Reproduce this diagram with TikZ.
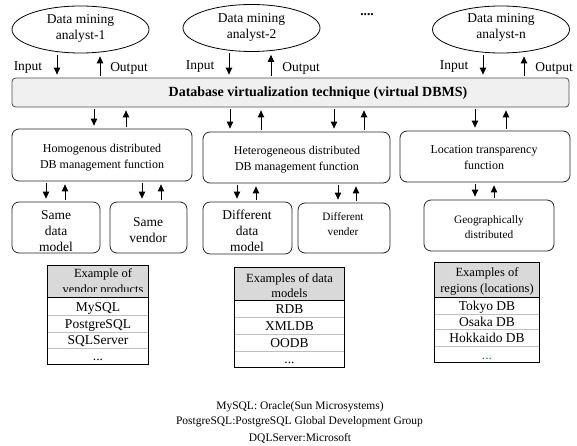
\documentclass[tikz,border=0pt]{standalone}
\usepackage{fontspec}
\setmainfont{Liberation Serif}
\usetikzlibrary{arrows.meta,shapes.geometric}
\definecolor{dotgreen}{RGB}{0,150,0}
\begin{document}
\begin{tikzpicture}[x=1pt,y=-1pt,
  arr/.style={line width=0.9pt,-{Triangle[length=7pt,width=6.5pt]},shorten <=1.5pt,shorten >=3pt},
  ell/.style={ellipse,draw=black,line width=0.8pt,minimum width=137pt,minimum height=47pt,inner sep=0pt},
  t/.style={inner sep=0pt,align=center,font=\fontsize{13.5}{16}\selectfont},
  ts/.style={inner sep=0pt,align=center,font=\fontsize{12}{16}\selectfont},
  tss/.style={inner sep=0pt,align=center,font=\fontsize{11.3}{15}\selectfont},
  rbox/.style={draw=black!85,line width=0.8pt,rounded corners=7pt,inner sep=0pt},
  dbbox/.style={draw=black!70,fill=gray!12,line width=0.8pt,rounded corners=3.5pt,inner sep=0pt},
  hdr/.style={fill=gray!30,draw=none,inner sep=0pt},
  cell/.style={draw=none,inner sep=0pt},
  ct/.style={inner sep=0pt,anchor=base,font=\fontsize{13.5}{16}\selectfont},
  ht/.style={inner sep=0pt,align=center,font=\fontsize{12.5}{15.5}\selectfont},
  sep/.style={draw=gray!50,line width=0.8pt},
  frame/.style={draw=black,line width=1.1pt},
  foot/.style={inner sep=0pt,font=\fontsize{11.5}{14}\selectfont}
]
\useasboundingbox (0,0) rectangle (577,446);

% analysts
\node[ell] (e1) at (80.5,29.5) {};
\node[t] (e1t) at (80.5,28.5) {Data mining\\analyst-1};
\node[ell] (e2) at (251.5,28) {};
\node[t] (e2t) at (251.5,27.5) {Data mining\\analyst-2};
\node[ell] (en) at (501,29.5) {};
\node[t] (ent) at (501,27.5) {Data mining\\analyst-n};
\node[t,font=\bfseries\fontsize{13.5}{16}\selectfont] (dots) at (367,15) {....};

% DBMS
\node[dbbox,minimum width=557pt,minimum height=29pt] (dbms) at (290.5,92.5) {};
\node[inner sep=0pt,font=\bfseries\fontsize{14}{16}\selectfont] (dbmst) at (318,93) {Database virtualization technique (virtual DBMS)};

% input / output labels
\node[t] (in1) at (28,68) {Input};
\node[t] (out1) at (129,68.5) {Output};
\node[t] (in2) at (200,67) {Input};
\node[t] (out2) at (301,68.5) {Output};
\node[t] (inn) at (454,67) {Input};
\node[t] (outn) at (554,68.5) {Output};

\draw[arr] (e1.south -| 57,0) -- (dbms.north -| 57,0);
\draw[arr] (dbms.north -| 100,0) -- (e1.south -| 100,0);
\draw[arr] (e2.south -| 229,0) -- (dbms.north -| 229,0);
\draw[arr] (dbms.north -| 271,0) -- (e2.south -| 271,0);
\draw[arr] (en.south -| 483,0) -- (dbms.north -| 483,0);
\draw[arr] (dbms.north -| 524,0) -- (en.south -| 524,0);

% function boxes
\node[rbox,minimum width=180pt,minimum height=52pt] (homo) at (102,155) {};
\node[ts] (homot) at (102,158) {Homogenous distributed\\DB management function};
\node[rbox,minimum width=187pt,minimum height=51pt] (het) at (296.5,157.5) {};
\node[ts] (hett) at (297,160) {Heterogeneous distributed\\DB management function};
\node[rbox,minimum width=170pt,minimum height=51pt] (loc) at (485,156.5) {};
\node[ts] (loct) at (484,157.5) {Location transparency\\function};

\draw[arr] (dbms.south -| 94,0) -- (homo.north -| 94,0);
\draw[arr] (homo.north -| 126,0) -- (dbms.south -| 126,0);
\draw[arr] (dbms.south -| 230,0) -- (het.north -| 230,0);
\draw[arr] (het.north -| 261,0) -- (dbms.south -| 261,0);
\draw[arr] (dbms.south -| 334,0) -- (het.north -| 334,0);
\draw[arr] (het.north -| 364,0) -- (dbms.south -| 364,0);
\draw[arr] (dbms.south -| 475,0) -- (loc.north -| 475,0);
\draw[arr] (loc.north -| 506,0) -- (dbms.south -| 506,0);

% detail boxes
\node[rbox,minimum width=88pt,minimum height=51pt] (sdm) at (56,227.5) {};
\node[t] (sdmt) at (56,231) {Same\\data\\model};
\node[rbox,minimum width=77pt,minimum height=51pt] (sv) at (148.5,227.5) {};
\node[t] (svt) at (148,230) {Same\\vendor};
\node[rbox,minimum width=89pt,minimum height=52pt] (ddm) at (247.5,228) {};
\node[t] (ddmt) at (247,231) {Different\\data\\model};
\node[rbox,minimum width=92pt,minimum height=50pt] (dv) at (344,228) {};
\node[tss] (dvt) at (343,224.5) {Different\\vender};
\node[rbox,minimum width=130pt,minimum height=51pt] (geo) at (489,225.5) {};
\node[tss] (geot) at (489,227.5) {Geographically\\distributed};

\draw[arr] (homo.south -| 46,0) -- (sdm.north -| 46,0);
\draw[arr] (sdm.north -| 65,0) -- (homo.south -| 65,0);
\draw[arr] (homo.south -| 142,0) -- (sv.north -| 142,0);
\draw[arr] (sv.north -| 161,0) -- (homo.south -| 161,0);
\draw[arr] (het.south -| 237,0) -- (ddm.north -| 237,0);
\draw[arr] (ddm.north -| 256,0) -- (het.south -| 256,0);
\draw[arr] (het.south -| 338,0) -- (dv.north -| 338,0);
\draw[arr] (dv.north -| 356,0) -- (het.south -| 356,0);
\draw[arr] (loc.south -| 475,0) -- (geo.north -| 475,0);
\draw[arr] (geo.north -| 494,0) -- (loc.south -| 494,0);

% table 1
\node[hdr,minimum width=100pt,minimum height=31pt] (t1h) at (98,281.5) {};
\begin{scope}
\clip (48,266) rectangle (148,291.3);
\node[ht] (t1ht) at (103,282.5) {Example of\\vendor products};
\end{scope}
\node[cell,minimum width=100pt,minimum height=18pt] (t1a) at (98,306) {};
\node[cell,minimum width=100pt,minimum height=17pt] (t1b) at (98,323.5) {};
\node[cell,minimum width=100pt,minimum height=16pt] (t1c) at (98,340) {};
\node[cell,minimum width=100pt,minimum height=16pt] (t1d) at (98,356) {};
\node[ct] (t1at) at (98,311.5) {MySQL};
\node[ct] (t1bt) at (98,328.5) {PostgreSQL};
\node[ct] (t1ct) at (98,344.5) {SQLServer};
\node[ct] (t1dt) at (98,360) {...};
\draw[sep] (t1a.south west) -- (t1a.south east);
\draw[sep] (t1b.south west) -- (t1b.south east);
\draw[sep] (t1c.south west) -- (t1c.south east);
\draw[frame] (t1h.south west) -- (t1h.south east);
\draw[frame] (t1h.north west) rectangle (t1d.south east);

% table 2
\node[hdr,minimum width=109pt,minimum height=32pt] (t2h) at (289.5,284) {};
\node[ht] (t2ht) at (289.5,285.5) {Examples of data\\models};
\node[cell,minimum width=109pt,minimum height=17pt] (t2a) at (289.5,308.5) {};
\node[cell,minimum width=109pt,minimum height=17pt] (t2b) at (289.5,325.5) {};
\node[cell,minimum width=109pt,minimum height=17pt] (t2c) at (289.5,342.5) {};
\node[cell,minimum width=109pt,minimum height=16pt] (t2d) at (289.5,359) {};
\node[ct] (t2at) at (289.5,313.5) {RDB};
\node[ct] (t2bt) at (289.5,330.5) {XMLDB};
\node[ct] (t2ct) at (289.5,347.5) {OODB};
\node[ct] (t2dt) at (289.5,363) {...};
\draw[sep] (t2a.south west) -- (t2a.south east);
\draw[sep] (t2b.south west) -- (t2b.south east);
\draw[sep] (t2c.south west) -- (t2c.south east);
\draw[frame] (t2h.south west) -- (t2h.south east);
\draw[frame] (t2h.north west) rectangle (t2d.south east);

% table 3
\node[hdr,minimum width=104pt,minimum height=34pt] (t3h) at (487,280) {};
\node[ht] (t3ht) at (487,281.5) {Examples of\\regions (locations)};
\node[cell,minimum width=104pt,minimum height=17pt] (t3a) at (487,305.5) {};
\node[cell,minimum width=104pt,minimum height=15pt] (t3b) at (487,321.5) {};
\node[cell,minimum width=104pt,minimum height=17pt] (t3c) at (487,337.5) {};
\node[cell,minimum width=104pt,minimum height=16pt] (t3d) at (487,354) {};
\node[ct] (t3at) at (487,310.5) {Tokyo DB};
\node[ct] (t3bt) at (487,326.5) {Osaka DB};
\node[ct] (t3ct) at (487,342.5) {Hokkaido DB};
\node[ct,text=dotgreen] (t3dt) at (487,359) {...};
\draw[sep] (t3a.south west) -- (t3a.south east);
\draw[sep] (t3b.south west) -- (t3b.south east);
\draw[sep] (t3c.south west) -- (t3c.south east);
\draw[frame] (t3h.south west) -- (t3h.south east);
\draw[frame] (t3h.north west) rectangle (t3d.south east);

% footnotes
\node[foot] (f1) at (300,407) {MySQL: Oracle(Sun Microsystems)};
\node[foot] (f2) at (299.5,422) {PostgreSQL:PostgreSQL Global Development Group};
\node[foot] (f3) at (300,438) {DQLServer:Microsoft};
\end{tikzpicture}
\end{document}
